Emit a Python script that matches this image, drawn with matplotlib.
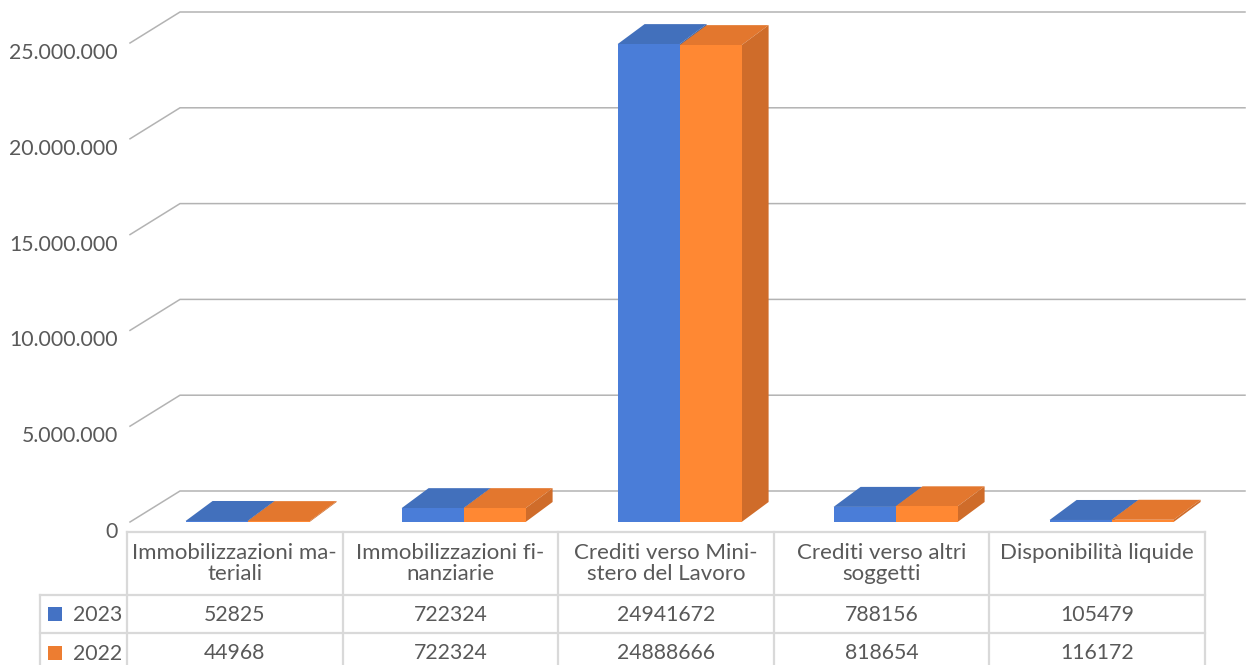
import matplotlib
matplotlib.use("Agg")
import matplotlib.pyplot as plt
from matplotlib.patches import Polygon, Rectangle

plt.rcParams["font.family"] = ["Lato", "DejaVu Sans"]

categories = ["Immobilizzazioni ma-\nteriali", "Immobilizzazioni fi-\nnanziarie",
              "Crediti verso Mini-\nstero del Lavoro", "Crediti verso altri\nsoggetti",
              "Disponibilità liquide"]
series_names = ["2023", "2022"]
values_2023 = [52825, 722324, 24941672, 788156, 105479]
values_2022 = [44968, 722324, 24888666, 818654, 116172]
y_ticks = [0, 5000000, 10000000, 15000000, 20000000, 25000000]

BLUE = ["#4a7dd8", "#4270bc", "#3a64a8"]
ORANGE = ["#ff8833", "#e3772e", "#cf6c2a"]
TEXT = "#595959"
GRID = "#b3b3b3"
TABLE = "#d9d9d9"
FS_TICK = 15.3
FS_TABLE = 16.0

W, H = 1250, 665
PX_PER_CAT = 216.0
PX_PER_VAL = 95.8 / 5000000
X0, Y0 = 247.6, 522.0
BAR_PX = 62.0
DX, DY = 27.0, 20.0   # bar depth
WX, WY = 50.0, 31.0   # wall depth

fig = plt.figure(figsize=(12.5, 6.65), dpi=100)

# frame and table, in pixels
deco = fig.add_axes([0, 0, 1, 1])
deco.set_xlim(0, W)
deco.set_ylim(H, 0)
deco.axis("off")

# bars, in data units
ax = fig.add_axes([0, 0, 1, 1])
ax.set_xlim(-X0 / PX_PER_CAT, (W - X0) / PX_PER_CAT)
ax.set_ylim(-(H - Y0) / PX_PER_VAL, Y0 / PX_PER_VAL)
ax.axis("off")
ax.patch.set_alpha(0)

for t in y_ticks:
    y = Y0 - t * PX_PER_VAL
    deco.plot([130, 130 + WX, 1245], [y, y - WY, y - WY], color=GRID, lw=1.1, solid_joinstyle="miter")
    label = f"{t:,}".replace(",", ".")
    deco.text(118, y + 10, label, ha="right", va="center", color=TEXT, fontsize=FS_TICK)

bw = BAR_PX / PX_PER_CAT
ddx = DX / PX_PER_CAT
ddy = DY / PX_PER_VAL


def draw_bar(x, v, cols):
    ax.add_patch(Polygon([(x, v), (x + bw, v), (x + bw + ddx, v + ddy), (x + ddx, v + ddy)],
                         facecolor=cols[1], edgecolor="none"))
    ax.add_patch(Polygon([(x + bw, 0), (x + bw + ddx, ddy), (x + bw + ddx, v + ddy), (x + bw, v)],
                         facecolor=cols[2], edgecolor="none"))
    ax.bar(x, v, width=bw, align="edge", color=cols[0], linewidth=0)


for i in range(len(categories)):
    draw_bar(i - bw, values_2023[i], BLUE)
    draw_bar(i, values_2022[i], ORANGE)

# data table
col_left = 127
col_w = 215.6
row_y = [532, 595, 633, 671]
right = col_left + col_w * len(categories)
deco.plot([col_left, right], [row_y[0], row_y[0]], color=TABLE, lw=1.6)
for y in row_y[1:]:
    deco.plot([40, right], [y, y], color=TABLE, lw=1.6)
for i in range(len(categories) + 1):
    x = col_left + col_w * i
    deco.plot([x, x], [row_y[0], H], color=TABLE, lw=1.6)
deco.plot([40, 40], [row_y[1], H], color=TABLE, lw=1.6)

for i, cat in enumerate(categories):
    xc = col_left + col_w * (i + 0.5)
    deco.text(xc, 543, cat, ha="center", va="top", color=TEXT, fontsize=FS_TABLE, linespacing=1.08)
    deco.text(xc, 615, str(values_2023[i]), ha="center", va="center", color=TEXT, fontsize=FS_TICK)
    deco.text(xc, 653, str(values_2022[i]), ha="center", va="center", color=TEXT, fontsize=FS_TICK)

for name, yc, col in zip(series_names, [614, 653], ["#4472c4", "#ed7d31"]):
    deco.add_patch(Rectangle((48, yc - 7), 14, 14, facecolor=col, edgecolor="none"))
    deco.text(122, yc + 1, name, ha="right", va="center", color=TEXT, fontsize=FS_TICK)

fig.savefig("out.png", dpi=100, facecolor="white")
